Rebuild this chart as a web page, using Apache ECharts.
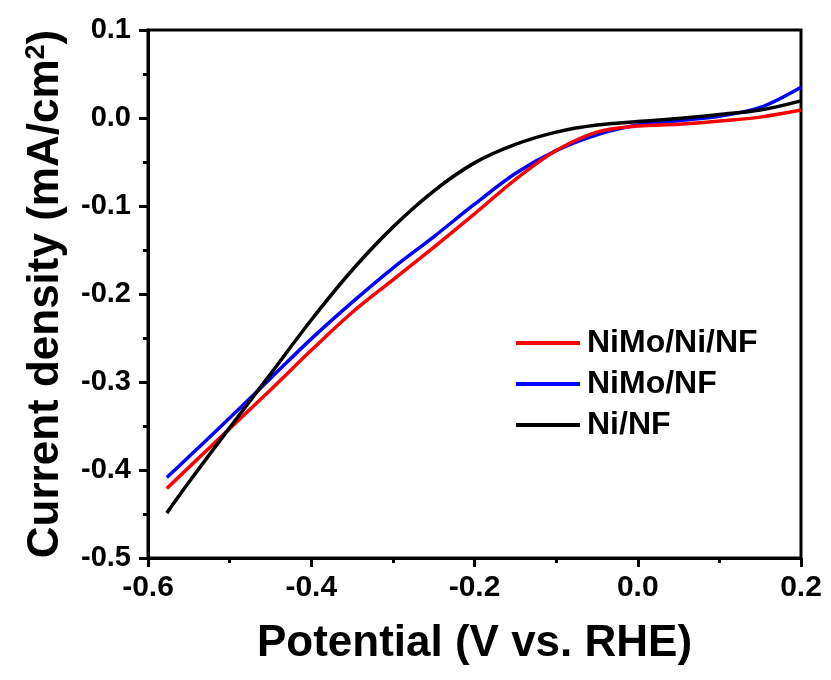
<!DOCTYPE html>
<html>
<head>
<meta charset="utf-8">
<script src="https://cdn.jsdelivr.net/npm/echarts@6/dist/echarts.min.js"></script>
<style>
html,body{margin:0;padding:0;background:#fff;}
#chart{width:831px;height:680px;}
</style>
</head>
<body>
<div id="chart"></div>
<script>
// ---- data ----
var seriesNames = ['NiMo/Ni/NF', 'NiMo/NF', 'Ni/NF'];

var xRed = [-0.577,-0.55,-0.50,-0.45,-0.40,-0.35,-0.30,-0.25,-0.20,-0.15,-0.10,-0.05,0.00,0.05,0.10,0.15,0.20];
var yRed = [-0.421,-0.397,-0.353,-0.309,-0.264,-0.221,-0.184,-0.147,-0.109,-0.070,-0.037,-0.016,-0.009,-0.0072,-0.0035,0.001,0.009];

var xBlue = [-0.577,-0.55,-0.50,-0.45,-0.40,-0.35,-0.30,-0.25,-0.20,-0.15,-0.10,-0.05,0.00,0.05,0.10,0.15,0.20];
var yBlue = [-0.4086,-0.385,-0.341,-0.296,-0.251,-0.2095,-0.1705,-0.135,-0.098,-0.063,-0.037,-0.019,-0.008,-0.003,0.002,0.012,0.035];

var xBlack = [-0.577,-0.55,-0.50,-0.45,-0.40,-0.35,-0.30,-0.25,-0.20,-0.15,-0.10,-0.05,0.00,0.05,0.10,0.15,0.20];
var yBlack = [-0.449,-0.414,-0.352,-0.291,-0.2295,-0.173,-0.124,-0.083,-0.051,-0.030,-0.016,-0.008,-0.004,-0.0005,0.004,0.009,0.0195];

var xTickValues = [-0.6, -0.4, -0.2, 0.0, 0.2];
var xTickLabels = ['-0.6', '-0.4', '-0.2', '0.0', '0.2'];
var yTickValues = [0.1, 0.0, -0.1, -0.2, -0.3, -0.4, -0.5];
var yTickLabels = ['0.1', '0.0', '-0.1', '-0.2', '-0.3', '-0.4', '-0.5'];

var xTitle = 'Potential (V vs. RHE)';
var yTitle = 'Current density (mA/cm{sup|2})';

// ---- helpers ----
function zip(xs, ys) { return xs.map(function (x, i) { return [x, ys[i]]; }); }
function labelFor(values, labels) {
  return function (v) {
    for (var i = 0; i < values.length; i++) {
      if (Math.abs(values[i] - v) < 1e-6) return labels[i];
    }
    return '';
  };
}

var FONT = '"Liberation Sans", Arial, Helvetica, sans-serif';
var chart = echarts.init(document.getElementById('chart'), null, { renderer: 'canvas' });

var axisCommon = {
  axisLine: { show: true, onZero: false, lineStyle: { color: '#000', width: 3 } },
  axisTick: { show: true, inside: false, length: 9, lineStyle: { color: '#000', width: 3 } },
  minorTick: { show: true, splitNumber: 2, length: 5, lineStyle: { color: '#000', width: 3 } },
  splitLine: { show: false },
  minorSplitLine: { show: false }
};

var option = {
  backgroundColor: '#fff',
  animation: false,
  grid: {
    left: 148, right: 30, top: 30, bottom: 122,
    show: true, borderColor: '#000', borderWidth: 3, backgroundColor: 'transparent'
  },
  legend: {
    data: seriesNames,
    orient: 'vertical',
    left: 511, top: 322,
    icon: 'rect',
    itemWidth: 64, itemHeight: 4, itemGap: 9,
    textStyle: { fontFamily: FONT, fontWeight: 'bold', fontSize: 32, color: '#000', padding: [0, 0, 0, 2] }
  },
  xAxis: Object.assign({}, axisCommon, {
    type: 'value', min: -0.6, max: 0.2, interval: 0.2,
    name: xTitle, nameLocation: 'middle', nameGap: 64,
    nameTextStyle: { fontFamily: FONT, fontWeight: 'bold', fontSize: 44, color: '#000' },
    axisLabel: { show: true, margin: 15, fontFamily: FONT, fontWeight: 'bold', fontSize: 30, color: '#000',
      formatter: labelFor(xTickValues, xTickLabels) }
  }),
  yAxis: Object.assign({}, axisCommon, {
    type: 'value', min: -0.5, max: 0.1, interval: 0.1,
    name: yTitle, nameLocation: 'middle', nameGap: 80, nameRotate: 90,
    nameTextStyle: { fontFamily: FONT, fontWeight: 'bold', fontSize: 44, color: '#000',
      rich: { sup: { fontFamily: FONT, fontWeight: 'bold', fontSize: 27, color: '#000', padding: [0, 0, 18, 0] } } },
    axisLabel: { show: true, margin: 17, fontFamily: FONT, fontWeight: 'bold', fontSize: 29, color: '#000',
      formatter: labelFor(yTickValues, yTickLabels) }
  }),
  series: [
    { name: seriesNames[1], type: 'line', data: zip(xBlue, yBlue), smooth: 0.35, symbol: 'none', z: 2,
      lineStyle: { color: '#0000ff', width: 3.5 }, itemStyle: { color: '#0000ff' } },
    { name: seriesNames[0], type: 'line', data: zip(xRed, yRed), smooth: 0.35, symbol: 'none', z: 3,
      lineStyle: { color: '#ff0000', width: 3.5 }, itemStyle: { color: '#ff0000' } },
    { name: seriesNames[2], type: 'line', data: zip(xBlack, yBlack), smooth: 0.35, symbol: 'none', z: 4,
      lineStyle: { color: '#000000', width: 3.5 }, itemStyle: { color: '#000000' } }
  ]
};
chart.setOption(option);
</script>
</body>
</html>
